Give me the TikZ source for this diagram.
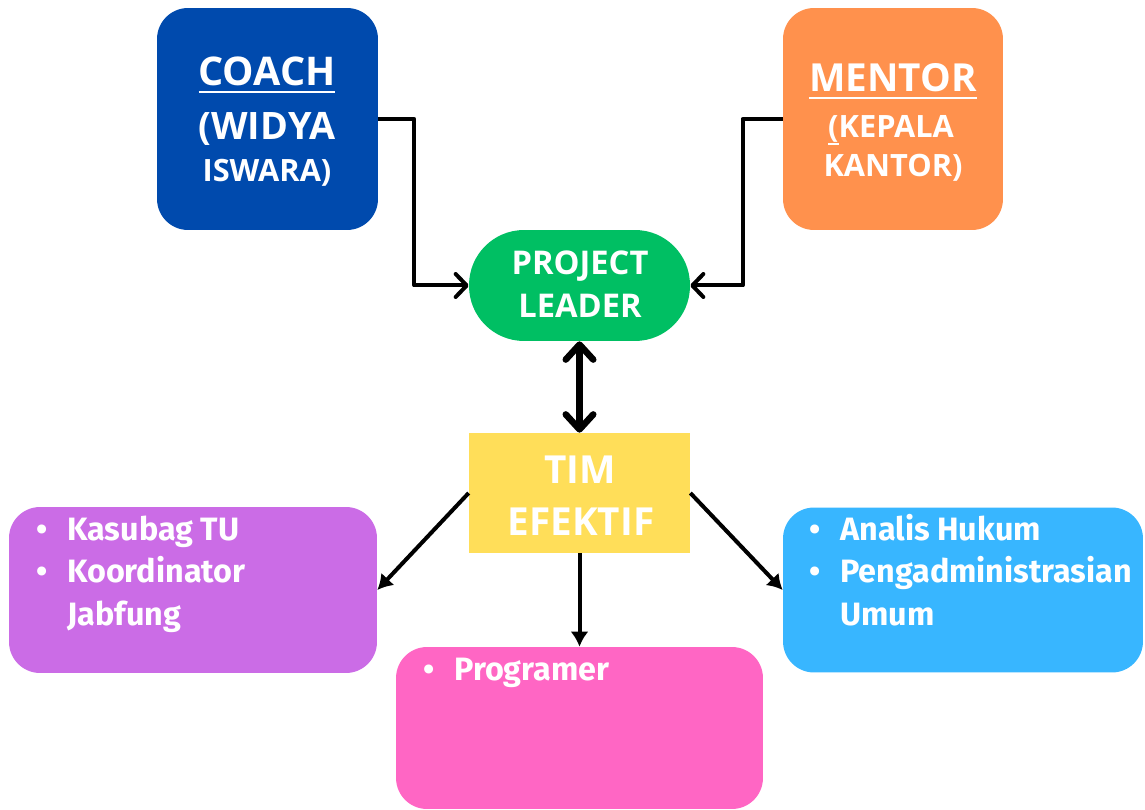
\documentclass[tikz,border=0pt]{standalone}
\usepackage{fontspec}
\setmainfont{Open Sans}
\newfontfamily\listfont{Fira Sans}
\usetikzlibrary{arrows.meta}

\definecolor{coachblue}{HTML}{004AAD}
\definecolor{mentororange}{HTML}{FF914D}
\definecolor{leadergreen}{HTML}{00BF63}
\definecolor{timyellow}{HTML}{FFDE59}
\definecolor{itempurple}{HTML}{CB6CE6}
\definecolor{itemblue}{HTML}{38B6FF}
\definecolor{itempink}{HTML}{FF66C4}

% underline drawn as a thicker rule
\newcommand\ulbox[1]{\setbox0\hbox{#1}\rlap{\rule[-4.2pt]{\wd0}{1.3pt}}\box0}
\newcommand\fs[1]{\fontsize{#1}{#1}\selectfont}

\tikzset{
  box/.style={draw=none, inner sep=0pt, rounded corners=0.62cm},
  title/.style={text=white, anchor=base, inner sep=0pt, font=\bfseries},
  item/.style={text=white, anchor=base west, inner sep=0pt,
    font=\listfont\bfseries\fs{18.4}},
  conn/.style={line width=0.08cm, line join=round,
    -{Straight Barb[round,length=0.22cm,width=0.46cm]}},
  flow/.style={line width=0.08cm, -{Latex[length=0.3cm,width=0.36cm]}},
  both/.style={line width=0.13cm, line join=round,
    {Straight Barb[round,length=0.3cm,width=0.55cm]}-{Straight Barb[round,length=0.3cm,width=0.55cm]}},
}
\newcommand\bul{\llap{\textbullet\hspace{11pt}}}

\begin{document}
\begin{tikzpicture}[x=0.02cm,y=-0.02cm]
  \useasboundingbox (0,0) rectangle (1145,810);

  % boxes
  \node[box, fill=coachblue, minimum width=4.42cm, minimum height=4.44cm] (coach) at (267.5,119) {};
  \node[box, fill=mentororange, minimum width=4.4cm, minimum height=4.44cm] (mentor) at (893,119) {};
  \node[box, fill=leadergreen, rounded corners=1.1cm, minimum width=4.42cm, minimum height=2.22cm] (leader) at (579.5,285.5) {};
  \node[draw=none, inner sep=0pt, fill=timyellow, minimum width=4.42cm, minimum height=2.4cm] (tim) at (579.5,493) {};
  \node[box, fill=itempurple, minimum width=7.36cm, minimum height=3.32cm] (kasubag) at (193,590) {};
  \node[box, fill=itemblue, minimum width=7.2cm, minimum height=3.3cm] (analis) at (963,590) {};
  \node[box, fill=itempink, minimum width=7.34cm, minimum height=3.24cm] (prog) at (579.5,728) {};

  % titles
  \node[title, font=\bfseries\fs{22.5}] (coachA) at (267,86) {\ulbox{COACH}};
  \node[title, font=\bfseries\fs{21.5}] (coachB) at (267,140) {(WIDYA};
  \node[title, font=\bfseries\fs{17.5}] (coachC) at (267,182) {ISWARA)};

  \node[title, font=\bfseries\fs{22}] (mentorA) at (893,92) {\ulbox{MENTOR}};
  \node[title, font=\bfseries\fs{17.5}] (mentorB) at (891,138) {\ulbox{(}KEPALA};
  \node[title, font=\bfseries\fs{17.5}] (mentorC) at (893,177) {KANTOR)};

  \node[title, font=\bfseries\fs{18.6}] (leaderA) at (580,275) {PROJECT};
  \node[title, font=\bfseries\fs{18.6}] (leaderB) at (580,318) {LEADER};

  \node[title, font=\bfseries\fs{22}] (timA) at (580,483) {TIM};
  \node[title, font=\bfseries\fs{22}] (timB) at (581,535) {EFEKTIF};

  % lists
  \node[item] (k1) at (67,540) {\bul Kasubag TU};
  \node[item] (k2) at (67,582) {\bul Koordinator};
  \node[item] (k3) at (67,625) {Jabfung};

  \node[item] (a1) at (840,540) {\bul Analis Hukum};
  \node[item] (a2) at (840,582) {\bul Pengadministrasian};
  \node[item] (a3) at (840,625) {Umum};

  \node[item] (p1) at (454,680) {\bul Programer};

  % connectors
  \draw[conn] (coach.east) -- ++(36,0) |- (leader.west);
  \draw[conn] (mentor.west) -- ++(-40,0) |- (leader.east);
  \draw[both] (leader.south) -- (tim.north);
  \draw[flow] (tim.west) -- (kasubag.east);
  \draw[flow] (tim.east) -- (analis.west);
  \draw[flow] (tim.south) -- (prog.north);
\end{tikzpicture}
\end{document}
